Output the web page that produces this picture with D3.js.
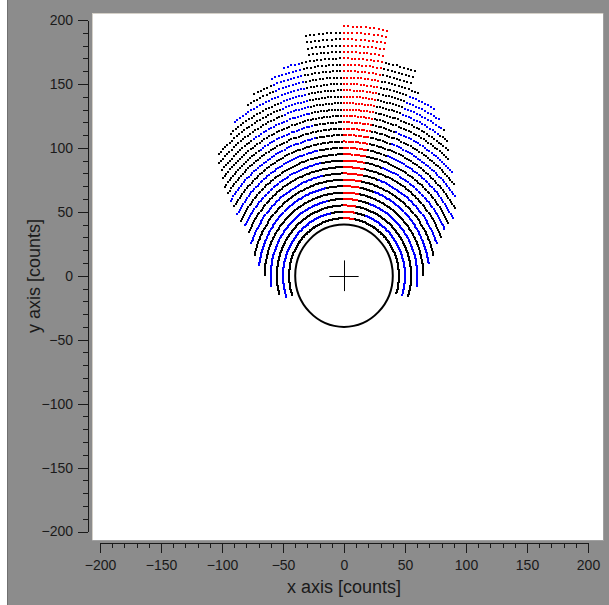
<!DOCTYPE html>
<html><head><meta charset="utf-8">
<script src="https://cdn.jsdelivr.net/npm/d3@7"></script>
<style>body{margin:0;background:#fff;overflow:hidden}svg{display:block}</style>
</head><body>
<script>
// ---- data ----
const ringRadius   = [45,50,55,60,65,70,75,80,85,90,95,100,105,110,115,120,125,130,135,140,145,150,155,160,165,170,175,180,185,190,195];
// angular extent of each ring, degrees from the +y axis (negative = left)
const ringLeftEnd  = [-110,-110,-105,-98,-90,-83,-78,-72,-67,-65,-63,-61,-59,-58,-56,-55,-53,-51,-50,-48,-40,-37,-31,-28,-22,-17,-10,-10,-10,-10,0];
const ringRightEnd = [108,108,108,98,90,82,78,72,70,67,65,63,60,56,52,48,44,41,39,36,33,30,24,20,20,20,11,11,11,11,11];
const sectorEdges  = [-112,-95,-80,-65,-50,-35,-22,-12,0,11,20,35,50,65,80,95,112];
// colour of each sector on each ring: k black, b blue, r red
const ringColours = [
"kkkkkkkkrkkkkkkk", // 45
"bbbbbbbkrkbbbbbb", // 50
"kkkkkkkkrkkkkkkk", // 55
"bbbbbbbkrkbbbbbb", // 60
"kkkkkkkkrkkkkkkk", // 65
"bbbbbbbkrkbbbbbb", // 70
"kkkkkkkkrkkkkkkk", // 75
"bbbbbbbkrkbbbbbb", // 80
"kkkkkkkkrkkkkkkk", // 85
"bbbbbbbkrkbbbbbb", // 90
"kkkkkkkkrkkkkkkk", // 95
"bbbbbbbkrkbbbbbb", // 100
"kkkkkkkkrkkkkkkk", // 105
"bbbbbbbkrkbbbbbb", // 110
"kkkkkkkkrkkkkkkk", // 115
"kkkkkbbkrkbbkkkk", // 120
"kkkkkkkkrkkkkkkk", // 125
"kkkkkbbkrkkkkkkk", // 130
"kkkkkkbkrkbkkkkk", // 135
"kkkkkkbkrkbkkkkk", // 140
"kkkkkkbkrkbkkkkk", // 145
"kkkkbbbkrkbkkkkk", // 150
"kkkkkkbkrkkkkkkk", // 155
"kkkkkkbkrkkkkkkk", // 160
"kkkkkkbkrkkkkkkk", // 165
"kkkkkkbkrkkkkkkk", // 170
"kkkkkkkkrkkkkkkk", // 175
"kkkkkkkkrkkkkkkk", // 180
"kkkkkkkkrkkkkkkk", // 185
"kkkkkkkkrkkkkkkk", // 190
"kkkkkkkkrkkkkkkk"  // 195
];
const circleRadius = 40;
const crossHalf = 12;
const xTicks = [-200,-150,-100,-50,0,50,100,150,200];
const yTicks = [-200,-150,-100,-50,0,50,100,150,200];
const minorTicks = [-190,-180,-170,-160,-140,-130,-120,-110,-90,-80,-70,-60,-40,-30,-20,-10,10,20,30,40,60,70,80,90,110,120,130,140,160,170,180,190];
const xTitle = "x axis [counts]";
const yTitle = "y axis [counts]";

// ---- drawing ----
const W = 609, H = 605;
const angleStep = 1.05;
const colourOf = {k:"#000000", b:"#0000ff", r:"#ff0000"};
const svg = d3.select("body").append("svg").attr("width", W).attr("height", H);
svg.append("rect").attr("width", W).attr("height", H).attr("fill", "#8c8c8c");
svg.append("rect").attr("x",0).attr("y",0).attr("width",7).attr("height",H).attr("fill","#ffffff");
svg.append("rect").attr("x",7).attr("y",0).attr("width",1).attr("height",H).attr("fill","#707070");

// plot frame
svg.append("rect").attr("x",92).attr("y",13).attr("width",511).attr("height",527).attr("fill","#ffffff");
svg.append("line").attr("x1",92).attr("x2",603).attr("y1",13.5).attr("y2",13.5).attr("stroke","#d4d0c8");
svg.append("line").attr("x1",92.5).attr("x2",92.5).attr("y1",13).attr("y2",540).attr("stroke","#d4d0c8");
svg.append("line").attr("x1",92).attr("x2",603).attr("y1",540.5).attr("y2",540.5).attr("stroke","#a0a0a0");
svg.append("line").attr("x1",603.5).attr("x2",603.5).attr("y1",13).attr("y2",541).attr("stroke","#a0a0a0");

const x = d3.scaleLinear().domain([-200,200]).range([100,588]);
const y = d3.scaleLinear().domain([-200,200]).range([531.5,20]);

// dots
const dots = [];
ringRadius.forEach((r,i) => {
  const k0 = Math.ceil(ringLeftEnd[i]/angleStep), k1 = Math.floor(ringRightEnd[i]/angleStep);
  for (let k = k0; k <= k1; k++) {
    const a = k*angleStep;
    let s = d3.bisectRight(sectorEdges, a) - 1;
    s = Math.max(0, Math.min(sectorEdges.length-2, s));
    const c = ringColours[i][s];
    const rad = a*Math.PI/180;
    dots.push({x: r*Math.sin(rad), y: r*Math.cos(rad), c});
  }
});
const plot = svg.append("g");
plot.selectAll("rect.dot").data(dots).join("rect").attr("class","dot")
  .attr("x", d => Math.round(x(d.x))-1).attr("y", d => Math.round(y(d.y))-1)
  .attr("width",2).attr("height",2).attr("fill", d => colourOf[d.c])
  .attr("shape-rendering","crispEdges");

// central circle and cross
plot.append("ellipse").attr("cx", x(0)).attr("cy", y(0))
  .attr("rx", x(circleRadius)-x(0)).attr("ry", y(0)-y(circleRadius))
  .attr("fill","none").attr("stroke","#000").attr("stroke-width",2);
plot.append("line").attr("x1", x(-crossHalf)).attr("x2", x(crossHalf)).attr("y1", Math.round(y(0))+0.5).attr("y2", Math.round(y(0))+0.5).attr("stroke","#000");
plot.append("line").attr("x1", Math.round(x(0))+0.5).attr("x2", Math.round(x(0))+0.5).attr("y1", y(-crossHalf)).attr("y2", y(crossHalf)).attr("stroke","#000");

// axes
const font = "Liberation Sans, Arial, sans-serif";
function styleAxis(g){
  g.selectAll("path,line").attr("stroke","#1a1a1a").attr("shape-rendering","crispEdges");
  g.selectAll("text").attr("fill","#1a1a1a").style("font-family",font).style("font-size","14px");
}
const yAx = svg.append("g").attr("transform","translate(88,0)")
  .call(d3.axisLeft(y).tickValues(yTicks).tickSize(10).tickSizeOuter(0).tickPadding(5).tickFormat(d3.format("d")));
styleAxis(yAx);
const yMin = svg.append("g").attr("transform","translate(88,0)")
  .call(d3.axisLeft(y).tickValues(minorTicks).tickSize(5).tickSizeOuter(0).tickFormat(""));
styleAxis(yMin);
const xAx = svg.append("g").attr("transform","translate(0,543)")
  .call(d3.axisBottom(x).tickValues(xTicks).tickSize(10).tickSizeOuter(0).tickPadding(7).tickFormat(d3.format("d")));
styleAxis(xAx);
const xMin = svg.append("g").attr("transform","translate(0,543)")
  .call(d3.axisBottom(x).tickValues(minorTicks).tickSize(5).tickSizeOuter(0).tickFormat(""));
styleAxis(xMin);
svg.selectAll(".domain").attr("stroke","#1a1a1a");

svg.append("text").attr("x",344).attr("y",593).attr("text-anchor","middle")
  .style("font-family",font).style("font-size","18px").attr("fill","#1a1a1a").text(xTitle);
svg.append("text").attr("transform","translate(40,276) rotate(-90)").attr("text-anchor","middle")
  .style("font-family",font).style("font-size","18px").attr("fill","#1a1a1a").text(yTitle);
</script>
</body></html>
